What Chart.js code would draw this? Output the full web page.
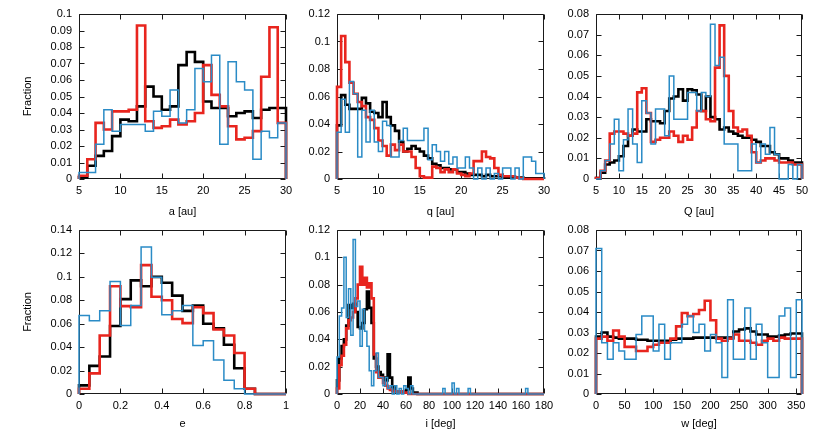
<!DOCTYPE html>
<html><head><meta charset="utf-8">
<script src="https://cdn.jsdelivr.net/npm/chart.js@4.4.1/dist/chart.umd.min.js"></script>
<style>
html,body{margin:0;padding:0;background:#fff;width:830px;height:431px;overflow:hidden;position:relative}
canvas{position:absolute}
</style></head><body>
<canvas id="pa" width="300" height="222" style="left:0;top:0"></canvas>
<canvas id="pq" width="260" height="222" style="left:300px;top:0"></canvas>
<canvas id="pQ" width="270" height="222" style="left:560px;top:0"></canvas>
<canvas id="pe" width="300" height="215" style="left:0;top:216px"></canvas>
<canvas id="pi" width="260" height="215" style="left:300px;top:216px"></canvas>
<canvas id="pw" width="270" height="215" style="left:560px;top:216px"></canvas>
<script>
// ---- semi-major axis a [au], bins of 1 au from 5
const aBinStart = 5, aBinWidth = 1;
const aBlack = [0.001,0.008,0.014,0.017,0.026,0.036,0.035,0.044,0.056,0.050,0.042,0.044,0.069,0.077,0.071,0.047,0.043,0.043,0.038,0.040,0.041,0.037,0.042,0.043,0.043];
const aRed   = [0.002,0.012,0.034,0.030,0.041,0.041,0.042,0.093,0.035,0.031,0.032,0.036,0.033,0.035,0.040,0.069,0.051,0.044,0.032,0.024,0.025,0.029,0.062,0.092,0.034];
const aBlue  = [0.004,0.004,0.021,0.042,0.029,0.033,0.033,0.033,0.029,0.041,0.038,0.054,0.034,0.042,0.067,0.059,0.075,0.021,0.071,0.059,0.054,0.012,0.029,0.025,0.034];
const aXTicks = [5,10,15,20,25,30];
const aYTicks = [0,0.01,0.02,0.03,0.04,0.05,0.06,0.07,0.08,0.09,0.1];

// ---- perihelion q [au], bins of 0.5 au from 5
const qBinStart = 5, qBinWidth = 0.5;
const qBlack = [0.039,0.061,0.054,0.051,0.051,0.051,0.059,0.055,0.049,0.048,0.045,0.056,0.045,0.039,0.035,0.027,0.020,0.022,0.024,0.022,0.020,0.017,0.015,0.011,0.010,0.008,0.008,0.007,0.007,0.005,0.005,0.004,0.003,0.003,0.003,0.002,0.003,0.002,0.002,0.002,0.001,0.001,0.001,0.001,0.001,0.0005,0.0005,0.0005,0.0005,0.0005];
const qRed   = [0.067,0.104,0.085,0.070,0.062,0.056,0.053,0.045,0.043,0.037,0.028,0.024,0.017,0.025,0.021,0.025,0.020,0.020,0.016,0.008,0.002,0.001,0.001,0.009,0.008,0.005,0.007,0.005,0.007,0.004,0.003,0.002,0.004,0.013,0.013,0.020,0.016,0.015,0.008,0.003,0.002,0.002,0.002,0.001,0.0005,0,0,0,0,0];
const qBlue  = [0.034,0.058,0.034,0.071,0.062,0.016,0.050,0.027,0.050,0.027,0.020,0.042,0.039,0.016,0.016,0.028,0.037,0.028,0.028,0.028,0.028,0.037,0.014,0.025,0.020,0.013,0.020,0.011,0.016,0.008,0.008,0.016,0.008,0,0.008,0,0.008,0,0.004,0,0.008,0.008,0,0.008,0,0.016,0.016,0.013,0.004,0.004];
const qXTicks = [5,10,15,20,25,30];
const qYTicks = [0,0.02,0.04,0.06,0.08,0.1,0.12];

// ---- aphelion Q [au], bins of 1 au from 5
const QBinStart = 5, QBinWidth = 1;
const QBlack = [0.0005,0.003,0.007,0.008,0.009,0.011,0.016,0.021,0.024,0.023,0.023,0.029,0.028,0.028,0.027,0.033,0.039,0.040,0.0435,0.038,0.0435,0.043,0.041,0.033,0.040,0.030,0.029,0.024,0.025,0.023,0.022,0.021,0.020,0.020,0.019,0.018,0.016,0.016,0.013,0.012,0.010,0.010,0.009,0.008,0.008];
const QRed   = [0.0005,0.004,0.009,0.022,0.023,0.023,0.022,0.021,0.022,0.042,0.044,0.032,0.018,0.019,0.020,0.020,0.023,0.021,0.018,0.021,0.019,0.025,0.033,0.033,0.029,0.028,0.054,0.0745,0.050,0.033,0.025,0.023,0.024,0.021,0.013,0.008,0.009,0.010,0.010,0.009,0.008,0.008,0.008,0.007,0.007];
const QBlue  = [0,0.004,0.009,0.017,0.029,0.004,0.019,0.034,0.017,0.008,0.038,0.032,0.017,0.034,0.034,0.021,0.050,0.029,0.029,0.029,0.042,0.042,0.033,0.042,0.040,0.075,0.055,0.059,0.017,0.017,0.017,0.004,0.004,0.004,0.017,0.008,0.017,0.012,0.025,0.012,0,0,0.007,0,0.007];
const QXTicks = [5,10,15,20,25,30,35,40,45,50];
const QYTicks = [0,0.01,0.02,0.03,0.04,0.05,0.06,0.07,0.08];

// ---- eccentricity e, bins of 0.05 from 0
const eBinStart = 0, eBinWidth = 0.05;
const eBlack = [0.0074,0.024,0.032,0.058,0.081,0.097,0.092,0.100,0.095,0.084,0.071,0.0755,0.060,0.056,0.042,0.022,0.0045,0,0,0];
const eRed   = [0.0045,0.0176,0.050,0.092,0.075,0.074,0.110,0.083,0.080,0.064,0.0605,0.074,0.069,0.055,0.050,0.035,0.0045,0,0,0];
const eBlue  = [0.067,0.0625,0.071,0.096,0.0585,0.0755,0.1255,0.0997,0.0676,0.071,0.0755,0.0415,0.0455,0.029,0.0117,0.0045,0,0,0,0];
const eXTicks = [0,0.2,0.4,0.6,0.8,1];
const eYTicks = [0,0.02,0.04,0.06,0.08,0.1,0.12,0.14];

// ---- inclination i [deg], bins of 2 deg from 0
const iBinStart = 0, iBinWidth = 2;
const iBlack = [0.010,0.026,0.035,0.040,0.050,0.065,0.063,0.066,0.060,0.049,
  0.048,0.052,0.062,0.075,0.063,0.052,0.026,0.020,0.016,0.014,
  0.012,0.010,0.029,0.012,0.005,0.002,0.002,0.002,0.002,0.002,
  0.003,0.012,0.004,0.001,0.001,0,0,0,0,0,
  0,0,0,0,0,0,0,0,0,0, 0,0,0,0,0,0,0,0,0,0, 0,0,0,0,0,0,0,0,0,0,
  0,0,0,0,0,0,0,0,0,0, 0,0,0,0,0,0,0,0,0,0];
const iRed = [0.004,0.021,0.028,0.036,0.048,0.054,0.056,0.060,0.070,0.080,
  0.093,0.080,0.085,0.078,0.081,0.070,0.029,0.016,0.012,0.012,
  0.008,0.006,0.004,0.003,0.002,0.002,0.002,0.001,0.002,0.001,
  0.001,0,0,0,0,0,0,0,0,0,
  0,0,0,0,0,0,0,0,0,0, 0,0,0,0,0,0,0,0,0,0, 0,0,0,0,0,0,0,0,0,0,
  0,0,0,0,0,0,0,0,0,0, 0,0,0,0,0,0,0,0,0,0];
const iBlue = [0.027,0.057,0.063,0.100,0.056,0.077,0.043,0.113,0.064,0.068,
  0.035,0.062,0.046,0.035,0.017,0.006,0.017,0.030,0.012,0.012,
  0.006,0.012,0.004,0.006,0,0.006,0,0.004,0,0.006,
  0.004,0,0.006,0,0,0,0,0,0,0,
  0,0,0,0,0,0,0.004,0,0,0,
  0.008,0,0.004,0,0,0,0,0.004,0,0,
  0,0,0,0,0,0,0,0,0,0, 0,0,0,0,0,0,0,0,0,0,
  0,0,0.004,0,0,0,0,0,0,0];
const iXTicks = [0,20,40,60,80,100,120,140,160,180];
const iYTicks = [0,0.02,0.04,0.06,0.08,0.1,0.12];

// ---- argument of perihelion w [deg], bins of 10 deg from 0
const wBinStart = 0, wBinWidth = 10;
const wBlack = [0.028,0.030,0.028,0.0275,0.027,0.027,0.027,0.0265,0.0265,0.026,0.026,0.026,0.026,0.0265,0.027,0.027,0.027,0.0275,0.0275,0.0275,0.0275,0.0275,0.0275,0.0275,0.0305,0.0315,0.032,0.0305,0.029,0.029,0.028,0.028,0.0285,0.029,0.0295,0.0295];
const wRed   = [0.027,0.028,0.026,0.031,0.028,0.023,0.023,0.021,0.021,0.023,0.024,0.025,0.025,0.027,0.033,0.0395,0.038,0.039,0.041,0.0455,0.036,0.027,0.026,0.027,0.029,0.026,0.026,0.025,0.024,0.026,0.027,0.026,0.0275,0.027,0.027,0.027];
const wBlue  = [0.071,0.025,0.017,0.025,0.021,0.017,0.017,0.029,0.038,0.038,0.021,0.034,0.017,0.025,0.025,0.034,0.038,0.030,0.034,0.021,0.029,0.025,0.008,0.046,0.017,0.017,0.042,0.017,0.034,0.025,0.008,0.008,0.038,0.042,0.008,0.046];
const wXTicks = [0,50,100,150,200,250,300,350];
const wYTicks = [0,0.01,0.02,0.03,0.04,0.05,0.06,0.07,0.08];

const FONT = "'Liberation Sans', Arial, Helvetica, sans-serif";
const C_BLACK = '#000000', C_RED = '#e8251e', C_BLUE = '#2a8bc6';

function hist(start, width, vals) {
  const pts = [{x: start, y: 0}];
  vals.forEach((v, k) => pts.push({x: start + k * width, y: v}));
  const end = start + vals.length * width;
  pts.push({x: end, y: vals[vals.length - 1]});
  pts.push({x: end, y: 0});
  return pts;
}
const fmt = v => String(Math.round(v * 1000) / 1000);

const frame = {
  id: 'frame',
  beforeDatasetsDraw(chart) {
    const {ctx, chartArea: a, scales: {x, y}} = chart;
    ctx.save();
    ctx.strokeStyle = '#1a1a1a'; ctx.lineWidth = 1;
    const L = Math.round(a.left) + 0.5, R = Math.round(a.right) - 0.5;
    const T = Math.round(a.top) + 0.5, B = Math.round(a.bottom) - 0.5;
    ctx.beginPath();
    ctx.rect(L, T, R - L, B - T);
    x.ticks.forEach(t => {
      const px = Math.round(x.getPixelForValue(t.value)) + 0.5;
      ctx.moveTo(px, B); ctx.lineTo(px, B - 5);
      ctx.moveTo(px, T); ctx.lineTo(px, T + 5);
    });
    y.ticks.forEach(t => {
      const py = Math.round(y.getPixelForValue(t.value)) + 0.5;
      ctx.moveTo(L, py); ctx.lineTo(L + 5, py);
      ctx.moveTo(R, py); ctx.lineTo(R - 5, py);
    });
    ctx.stroke();
    ctx.restore();
  }
};

function panel(id, p) {
  const base = {stepped: true, pointRadius: 0, fill: false, tension: 0, borderJoinStyle: 'miter', borderCapStyle: 'butt', clip: 3};
  new Chart(document.getElementById(id), {
    type: 'line',
    data: {datasets: [
      Object.assign({}, base, {label: 'blue', data: hist(p.start, p.width, p.blue), borderColor: C_BLUE, borderWidth: 1.5, order: 0}),
      Object.assign({}, base, {label: 'red', data: hist(p.start, p.width, p.red), borderColor: C_RED, borderWidth: 2.6, order: 1}),
      Object.assign({}, base, {label: 'black', data: hist(p.start, p.width, p.black), borderColor: C_BLACK, borderWidth: 2.6, order: 2})
    ]},
    options: {
      responsive: false, animation: false, devicePixelRatio: 1, events: [],
      layout: {padding: {top: 14, right: p.padRight, left: 0, bottom: 0}},
      plugins: {legend: {display: false}, tooltip: {enabled: false}},
      scales: {
        x: {
          type: 'linear', min: p.xMin, max: p.xMax,
          afterBuildTicks: s => { s.ticks = p.xTicks.map(v => ({value: v})); },
          afterFit: s => { s.height = p.xHeight; },
          grid: {display: false, drawTicks: false}, border: {display: false},
          ticks: {autoSkip: false, maxRotation: 0, padding: 5, color: '#000', font: {family: FONT, size: 11}, callback: fmt},
          title: {display: true, text: p.xTitle, color: '#000', font: {family: FONT, size: 11}, padding: {top: 0, bottom: p.titlePad}}
        },
        y: {
          type: 'linear', min: 0, max: p.yMax,
          afterBuildTicks: s => { s.ticks = p.yTicks.map(v => ({value: v})); },
          afterFit: s => { s.width = p.yWidth; },
          grid: {display: false, drawTicks: false}, border: {display: false},
          ticks: {autoSkip: false, padding: 7, color: '#000', font: {family: FONT, size: 11}, callback: fmt},
          title: {display: !!p.yTitle, text: p.yTitle || '', color: '#000', font: {family: FONT, size: 11}, padding: {top: 21, bottom: 0}}
        }
      }
    },
    plugins: [frame]
  });
}

const TOP = {xHeight: 43, titlePad: 3.4};
const BOT = {xHeight: 37, titlePad: 0.5};
panel('pa', Object.assign({start: aBinStart, width: aBinWidth, black: aBlack, red: aRed, blue: aBlue, xMin: 5, xMax: 30, yMax: 0.1, xTicks: aXTicks, yTicks: aYTicks, xTitle: 'a [au]', yTitle: 'Fraction', yWidth: 79, padRight: 14}, TOP));
panel('pq', Object.assign({start: qBinStart, width: qBinWidth, black: qBlack, red: qRed, blue: qBlue, xMin: 5, xMax: 30, yMax: 0.12, xTicks: qXTicks, yTicks: qYTicks, xTitle: 'q [au]', yWidth: 37, padRight: 16}, TOP));
panel('pQ', Object.assign({start: QBinStart, width: QBinWidth, black: QBlack, red: QRed, blue: QBlue, xMin: 5, xMax: 50, yMax: 0.08, xTicks: QXTicks, yTicks: QYTicks, xTitle: 'Q [au]', yWidth: 36, padRight: 28}, TOP));
panel('pe', Object.assign({start: eBinStart, width: eBinWidth, black: eBlack, red: eRed, blue: eBlue, xMin: 0, xMax: 1, yMax: 0.14, xTicks: eXTicks, yTicks: eYTicks, xTitle: 'e', yTitle: 'Fraction', yWidth: 79, padRight: 14}, BOT));
panel('pi', Object.assign({start: iBinStart, width: iBinWidth, black: iBlack, red: iRed, blue: iBlue, xMin: 0, xMax: 180, yMax: 0.12, xTicks: iXTicks, yTicks: iYTicks, xTitle: 'i [deg]', yWidth: 37, padRight: 16}, BOT));
panel('pw', Object.assign({start: wBinStart, width: wBinWidth, black: wBlack, red: wRed, blue: wBlue, xMin: 0, xMax: 360, yMax: 0.08, xTicks: wXTicks, yTicks: wYTicks, xTitle: 'w [deg]', yWidth: 36, padRight: 28}, BOT));
</script>
</body></html>
